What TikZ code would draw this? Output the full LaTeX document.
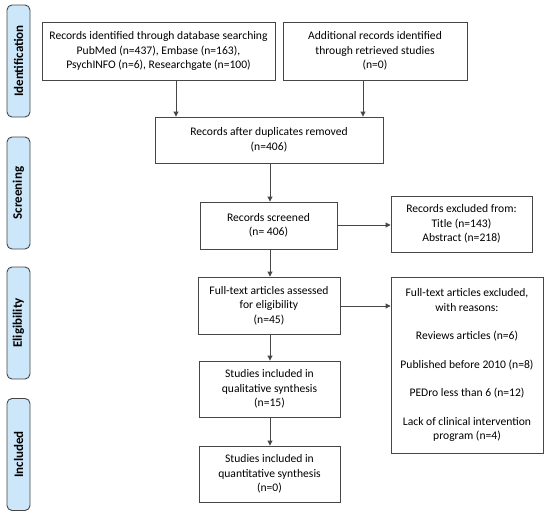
\documentclass[tikz,border=0pt]{standalone}
\usepackage{fontspec}
\setmainfont{Carlito}
\usetikzlibrary{arrows.meta}
\definecolor{lblue}{RGB}{205,231,250}
\definecolor{edge}{RGB}{70,70,70}
\begin{document}
\begin{tikzpicture}[x=1pt,y=-1pt,
  box/.style={draw=edge,line width=0.9pt,fill=white,align=center,inner sep=2pt,
    font=\fontsize{11.6}{14.5}\selectfont},
  side/.style={draw=edge,line width=0.9pt,fill=lblue,rounded corners=5pt,
    minimum width=112pt,minimum height=23pt,rotate=90,
    font=\fontsize{13}{15}\selectfont\bfseries},
  arr/.style={-{Triangle[length=5pt,width=5pt]},line width=0.9pt,draw=edge}]
\useasboundingbox (0,0) rectangle (550,517);
\node[side] (s1) at (18.5,61) {Identification};
\node[side] (s2) at (18.5,193) {Screening};
\node[side] (s3) at (18.5,323) {Eligibility};
\node[side] (s4) at (18.5,454.5) {Included};

\node[box,minimum width=233pt,minimum height=58pt] (b1) at (158.5,51)
  {Records identified through database searching\\PubMed (n=437), Embase (n=163),\\PsychINFO (n=6), Researchgate (n=100)};
\node[box,minimum width=184pt,minimum height=58pt] (b2) at (375,51)
  {Additional records identified\\through retrieved studies\\(n=0)};
\node[box,minimum width=228pt,minimum height=46pt] (b3) at (269,140)
  {Records after duplicates removed\\(n=406)};
\node[box,minimum width=137pt,minimum height=47pt] (b4) at (268.5,225.5)
  {Records screened\\(n= 406)};
\node[box,minimum width=141pt,minimum height=56pt] (b5) at (461.5,224)
  {Records excluded from:\\Title (n=143)\\Abstract (n=218)};
\node[box,minimum width=142pt,minimum height=57pt] (b6) at (269,305.5)
  {Full-text articles assessed\\for eligibility\\(n=45)};
\node[box,minimum width=152pt,minimum height=176pt] (b7) at (467,365)
  {Full-text articles excluded,\\with reasons:\\[14pt]Reviews articles (n=6)\\[14pt]Published before 2010 (n=8)\\[14pt]PEDro less than 6 (n=12)\\[14pt]Lack of clinical intervention\\program (n=4)};
\node[box,minimum width=141pt,minimum height=56pt] (b8) at (269.5,389)
  {Studies included in\\qualitative synthesis\\(n=15)};
\node[box,minimum width=141pt,minimum height=56pt] (b9) at (269.5,474)
  {Studies included in\\quantitative synthesis\\(n=0)};

\draw[arr] (b1.south -| 176,0) -- (b3.north -| 176,0);
\draw[arr] (b2.south -| 363,0) -- (b3.north -| 363,0);
\draw[arr] (b3.south -| 270,0) -- (b4.north -| 270,0);
\draw[arr] (b4.south -| 270,0) -- (b6.north -| 270,0);
\draw[arr] (b6.south -| 270,0) -- (b8.north -| 270,0);
\draw[arr] (b8.south -| 270,0) -- (b9.north -| 270,0);
\draw[arr] (b4.east |- 0,225) -- (b5.west |- 0,225);
\draw[arr] (b6.east |- 0,306) -- (b7.west |- 0,306);
\end{tikzpicture}
\end{document}
